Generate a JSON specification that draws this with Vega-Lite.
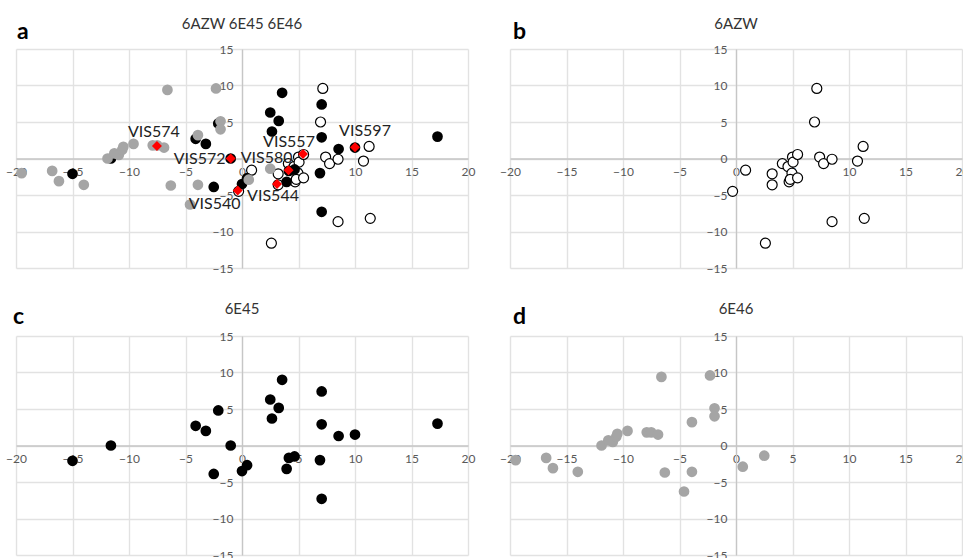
{
  "$schema": "https://vega.github.io/schema/vega-lite/v6.json",
  "background": "white",
  "padding": {"top": 16, "left": 5, "right": 5, "bottom": 5},
  "config": {
    "font": "Lato",
    "view": {"stroke": null},
    "axis": {"gridColor": "#e2e2e2", "gridWidth": 1.4, "domainColor": "#c6c6c6", "domainWidth": 1.3, "ticks": false, "labelFontSize": 12, "labelColor": "#595959", "labelFlush": false, "labelOverlap": false, "labelBound": false},
    "axisX": {"labelPadding": 8},
    "axisY": {"labelPadding": 9},
    "title": {"fontSize": 15, "fontWeight": "normal", "color": "#333333", "anchor": "middle", "offset": -10.5}
  },
  "datasets": {
    "pts": [
      {"set": "6AZW", "x": -0.3, "y": -4.5}, {"set": "6AZW", "x": 0.85, "y": -1.6}, {"set": "6AZW", "x": 3.2, "y": -2.1}, {"set": "6AZW", "x": 3.2, "y": -3.6},
      {"set": "6AZW", "x": 2.6, "y": -11.6}, {"set": "6AZW", "x": 4.1, "y": -0.7}, {"set": "6AZW", "x": 4.6, "y": -1.1}, {"set": "6AZW", "x": 5.0, "y": 0.2},
      {"set": "6AZW", "x": 5.05, "y": -0.5}, {"set": "6AZW", "x": 5.45, "y": 0.55}, {"set": "6AZW", "x": 4.95, "y": -2.0}, {"set": "6AZW", "x": 4.7, "y": -3.2},
      {"set": "6AZW", "x": 4.8, "y": -2.85}, {"set": "6AZW", "x": 5.45, "y": -2.65}, {"set": "6AZW", "x": 7.15, "y": 9.6}, {"set": "6AZW", "x": 6.95, "y": 5.0},
      {"set": "6AZW", "x": 7.4, "y": 0.2}, {"set": "6AZW", "x": 7.75, "y": -0.7}, {"set": "6AZW", "x": 8.5, "y": -0.1}, {"set": "6AZW", "x": 8.5, "y": -8.65},
      {"set": "6AZW", "x": 10.75, "y": -0.35}, {"set": "6AZW", "x": 11.25, "y": 1.65}, {"set": "6AZW", "x": 11.35, "y": -8.2},
      {"set": "6E45", "x": -15.0, "y": -2.1}, {"set": "6E45", "x": -11.6, "y": 0.0}, {"set": "6E45", "x": -4.1, "y": 2.7}, {"set": "6E45", "x": -3.2, "y": 2.0},
      {"set": "6E45", "x": -2.1, "y": 4.8}, {"set": "6E45", "x": -1.0, "y": 0.0}, {"set": "6E45", "x": -2.5, "y": -3.9}, {"set": "6E45", "x": 0.0, "y": -3.5},
      {"set": "6E45", "x": 0.45, "y": -2.7}, {"set": "6E45", "x": 2.5, "y": 6.3}, {"set": "6E45", "x": 3.55, "y": 9.0}, {"set": "6E45", "x": 3.25, "y": 5.15},
      {"set": "6E45", "x": 2.65, "y": 3.7}, {"set": "6E45", "x": 4.15, "y": -1.7}, {"set": "6E45", "x": 4.65, "y": -1.5}, {"set": "6E45", "x": 3.95, "y": -3.2},
      {"set": "6E45", "x": 6.9, "y": -2.0}, {"set": "6E45", "x": 7.05, "y": 2.9}, {"set": "6E45", "x": 7.05, "y": 7.4}, {"set": "6E45", "x": 7.05, "y": -7.3},
      {"set": "6E45", "x": 8.55, "y": 1.3}, {"set": "6E45", "x": 10.0, "y": 1.5}, {"set": "6E45", "x": 17.3, "y": 3.0},
      {"set": "6E46", "x": -19.5, "y": -2.0}, {"set": "6E46", "x": -16.8, "y": -1.7}, {"set": "6E46", "x": -16.2, "y": -3.1}, {"set": "6E46", "x": -14.0, "y": -3.6},
      {"set": "6E46", "x": -11.9, "y": 0.0}, {"set": "6E46", "x": -11.3, "y": 0.7}, {"set": "6E46", "x": -10.9, "y": 0.5}, {"set": "6E46", "x": -10.6, "y": 1.2},
      {"set": "6E46", "x": -10.5, "y": 1.6}, {"set": "6E46", "x": -9.6, "y": 2.0}, {"set": "6E46", "x": -7.9, "y": 1.8}, {"set": "6E46", "x": -7.5, "y": 1.8},
      {"set": "6E46", "x": -6.9, "y": 1.5}, {"set": "6E46", "x": -6.6, "y": 9.4}, {"set": "6E46", "x": -2.3, "y": 9.6}, {"set": "6E46", "x": -1.9, "y": 5.1},
      {"set": "6E46", "x": -1.9, "y": 4.0}, {"set": "6E46", "x": -3.9, "y": 3.2}, {"set": "6E46", "x": -6.3, "y": -3.7}, {"set": "6E46", "x": -3.9, "y": -3.6},
      {"set": "6E46", "x": -4.6, "y": -6.3}, {"set": "6E46", "x": 0.6, "y": -2.9}, {"set": "6E46", "x": 2.5, "y": -1.4}
    ],
    "vis": [
      {"label": "VIS574", "x": -7.53, "y": 1.7},
      {"label": "VIS572", "x": -1.0, "y": 0.0},
      {"label": "VIS580", "x": 4.12, "y": -1.6},
      {"label": "VIS557", "x": 5.4, "y": 0.6},
      {"label": "VIS597", "x": 10.0, "y": 1.55},
      {"label": "VIS540", "x": -0.38, "y": -4.4},
      {"label": "VIS544", "x": 3.1, "y": -3.5}
    ]
  },
  "spacing": 27,
  "vconcat": [
    {
      "spacing": 24,
      "hconcat": [
        {
          "width": 452, "height": 219,
          "title": "6AZW 6E45 6E46",
          "layer": [
            {"data": {"name": "pts"}, "transform": [{"filter": "datum.set === '6AZW'"}], "mark": {"type": "circle", "size": 100, "fill": "white", "stroke": "black", "strokeWidth": 1.2, "opacity": 1},
             "encoding": {
               "x": {"field": "x", "type": "quantitative", "title": null, "scale": {"domain": [-20, 20], "nice": false}, "axis": {"orient": "top", "grid": true, "labels": false, "domain": false, "ticks": false, "values": [-20, -15, -10, -5, 0, 5, 10, 15, 20]}},
               "y": {"field": "y", "type": "quantitative", "title": null, "scale": {"domain": [-15, 15], "nice": false}, "axis": {"orient": "right", "grid": true, "labels": false, "domain": false, "ticks": false, "values": [-15, -10, -5, 0, 5, 10, 15]}}}},
            {"data": {"name": "pts"}, "transform": [{"filter": "datum.set === '6E45'"}], "mark": {"type": "circle", "size": 115, "color": "black", "opacity": 1},
             "encoding": {"x": {"field": "x", "type": "quantitative", "axis": null}, "y": {"field": "y", "type": "quantitative", "axis": null}}},
            {"data": {"name": "pts"}, "transform": [{"filter": "datum.set === '6E46'"}], "mark": {"type": "circle", "size": 115, "color": "#a5a5a5", "opacity": 1},
             "encoding": {"x": {"field": "x", "type": "quantitative", "axis": null}, "y": {"field": "y", "type": "quantitative", "axis": null}}},
            {"data": {"name": "vis"}, "mark": {"type": "point", "shape": "diamond", "size": 100, "filled": true, "color": "#ff0000", "opacity": 1},
             "encoding": {"x": {"field": "x", "type": "quantitative", "axis": null}, "y": {"field": "y", "type": "quantitative", "axis": null}}},
            {"data": {"name": "vis"}, "transform": [{"filter": "datum.label === 'VIS574'"}], "mark": {"type": "text", "fontSize": 16, "color": "#222222", "align": "center", "baseline": "middle", "dx": -3, "dy": -14},
             "encoding": {"x": {"field": "x", "type": "quantitative", "axis": null}, "y": {"field": "y", "type": "quantitative", "axis": null}, "text": {"field": "label"}}},
            {"data": {"name": "vis"}, "transform": [{"filter": "datum.label === 'VIS572'"}], "mark": {"type": "text", "fontSize": 16, "color": "#222222", "align": "center", "baseline": "middle", "dx": -31, "dy": 0},
             "encoding": {"x": {"field": "x", "type": "quantitative", "axis": null}, "y": {"field": "y", "type": "quantitative", "axis": null}, "text": {"field": "label"}}},
            {"data": {"name": "vis"}, "transform": [{"filter": "datum.label === 'VIS580'"}], "mark": {"type": "text", "fontSize": 16, "color": "#222222", "align": "center", "baseline": "middle", "dx": -22, "dy": -12},
             "encoding": {"x": {"field": "x", "type": "quantitative", "axis": null}, "y": {"field": "y", "type": "quantitative", "axis": null}, "text": {"field": "label"}}},
            {"data": {"name": "vis"}, "transform": [{"filter": "datum.label === 'VIS557'"}], "mark": {"type": "text", "fontSize": 16, "color": "#222222", "align": "center", "baseline": "middle", "dx": -14, "dy": -12},
             "encoding": {"x": {"field": "x", "type": "quantitative", "axis": null}, "y": {"field": "y", "type": "quantitative", "axis": null}, "text": {"field": "label"}}},
            {"data": {"name": "vis"}, "transform": [{"filter": "datum.label === 'VIS597'"}], "mark": {"type": "text", "fontSize": 16, "color": "#222222", "align": "center", "baseline": "middle", "dx": 10, "dy": -16},
             "encoding": {"x": {"field": "x", "type": "quantitative", "axis": null}, "y": {"field": "y", "type": "quantitative", "axis": null}, "text": {"field": "label"}}},
            {"data": {"name": "vis"}, "transform": [{"filter": "datum.label === 'VIS540'"}], "mark": {"type": "text", "fontSize": 16, "color": "#222222", "align": "center", "baseline": "middle", "dx": -23, "dy": 13},
             "encoding": {"x": {"field": "x", "type": "quantitative", "axis": null}, "y": {"field": "y", "type": "quantitative", "axis": null}, "text": {"field": "label"}}},
            {"data": {"name": "vis"}, "transform": [{"filter": "datum.label === 'VIS544'"}], "mark": {"type": "text", "fontSize": 16, "color": "#222222", "align": "center", "baseline": "middle", "dx": -4, "dy": 12},
             "encoding": {"x": {"field": "x", "type": "quantitative", "axis": null}, "y": {"field": "y", "type": "quantitative", "axis": null}, "text": {"field": "label"}}},
            {"data": {"values": [{"t": "a"}]}, "mark": {"type": "text", "align": "left", "baseline": "alphabetic", "dx": 1, "dy": -10, "fontSize": 23, "fontWeight": "bold", "color": "black"},
             "encoding": {
               "x": {"datum": -20, "type": "quantitative", "axis": {"orient": "bottom", "grid": false, "title": null, "offset": -109.5, "values": [-20, -15, -10, -5, 0, 5, 10, 15, 20]}},
               "y": {"datum": 15, "type": "quantitative", "axis": {"orient": "left", "grid": false, "title": null, "offset": -226, "values": [-15, -10, -5, 0, 5, 10, 15]}},
               "text": {"field": "t"}}}
          ]
        },
        {
          "width": 452, "height": 219,
          "title": "6AZW",
          "layer": [
            {"data": {"name": "pts"}, "transform": [{"filter": "datum.set === '6AZW'"}], "mark": {"type": "circle", "size": 100, "fill": "white", "stroke": "black", "strokeWidth": 1.2, "opacity": 1},
             "encoding": {
               "x": {"field": "x", "type": "quantitative", "title": null, "scale": {"domain": [-20, 20], "nice": false}, "axis": {"orient": "top", "grid": true, "labels": false, "domain": false, "ticks": false, "values": [-20, -15, -10, -5, 0, 5, 10, 15, 20]}},
               "y": {"field": "y", "type": "quantitative", "title": null, "scale": {"domain": [-15, 15], "nice": false}, "axis": {"orient": "right", "grid": true, "labels": false, "domain": false, "ticks": false, "values": [-15, -10, -5, 0, 5, 10, 15]}}}},
            {"data": {"values": [{"t": "b"}]}, "mark": {"type": "text", "align": "left", "baseline": "alphabetic", "dx": 3, "dy": -10, "fontSize": 23, "fontWeight": "bold", "color": "black"},
             "encoding": {
               "x": {"datum": -20, "type": "quantitative", "axis": {"orient": "bottom", "grid": false, "title": null, "offset": -109.5, "values": [-20, -15, -10, -5, 0, 5, 10, 15, 20]}},
               "y": {"datum": 15, "type": "quantitative", "axis": {"orient": "left", "grid": false, "title": null, "offset": -226, "values": [-15, -10, -5, 0, 5, 10, 15]}},
               "text": {"field": "t"}}}
          ]
        }
      ]
    },
    {
      "spacing": 24,
      "hconcat": [
        {
          "width": 452, "height": 219,
          "title": "6E45",
          "layer": [
            {"data": {"name": "pts"}, "transform": [{"filter": "datum.set === '6E45'"}], "mark": {"type": "circle", "size": 115, "color": "black", "opacity": 1},
             "encoding": {
               "x": {"field": "x", "type": "quantitative", "title": null, "scale": {"domain": [-20, 20], "nice": false}, "axis": {"orient": "top", "grid": true, "labels": false, "domain": false, "ticks": false, "values": [-20, -15, -10, -5, 0, 5, 10, 15, 20]}},
               "y": {"field": "y", "type": "quantitative", "title": null, "scale": {"domain": [-15, 15], "nice": false}, "axis": {"orient": "right", "grid": true, "labels": false, "domain": false, "ticks": false, "values": [-15, -10, -5, 0, 5, 10, 15]}}}},
            {"data": {"values": [{"t": "c"}]}, "mark": {"type": "text", "align": "left", "baseline": "alphabetic", "dx": -3, "dy": -12, "fontSize": 23, "fontWeight": "bold", "color": "black"},
             "encoding": {
               "x": {"datum": -20, "type": "quantitative", "axis": {"orient": "bottom", "grid": false, "title": null, "offset": -109.5, "values": [-20, -15, -10, -5, 0, 5, 10, 15, 20]}},
               "y": {"datum": 15, "type": "quantitative", "axis": {"orient": "left", "grid": false, "title": null, "offset": -226, "values": [-15, -10, -5, 0, 5, 10, 15]}},
               "text": {"field": "t"}}}
          ]
        },
        {
          "width": 452, "height": 219,
          "title": "6E46",
          "layer": [
            {"data": {"name": "pts"}, "transform": [{"filter": "datum.set === '6E46'"}], "mark": {"type": "circle", "size": 115, "color": "#a5a5a5", "opacity": 1},
             "encoding": {
               "x": {"field": "x", "type": "quantitative", "title": null, "scale": {"domain": [-20, 20], "nice": false}, "axis": {"orient": "top", "grid": true, "labels": false, "domain": false, "ticks": false, "values": [-20, -15, -10, -5, 0, 5, 10, 15, 20]}},
               "y": {"field": "y", "type": "quantitative", "title": null, "scale": {"domain": [-15, 15], "nice": false}, "axis": {"orient": "right", "grid": true, "labels": false, "domain": false, "ticks": false, "values": [-15, -10, -5, 0, 5, 10, 15]}}}},
            {"data": {"values": [{"t": "d"}]}, "mark": {"type": "text", "align": "left", "baseline": "alphabetic", "dx": 3, "dy": -12, "fontSize": 23, "fontWeight": "bold", "color": "black"},
             "encoding": {
               "x": {"datum": -20, "type": "quantitative", "axis": {"orient": "bottom", "grid": false, "title": null, "offset": -109.5, "values": [-20, -15, -10, -5, 0, 5, 10, 15, 20]}},
               "y": {"datum": 15, "type": "quantitative", "axis": {"orient": "left", "grid": false, "title": null, "offset": -226, "values": [-15, -10, -5, 0, 5, 10, 15]}},
               "text": {"field": "t"}}}
          ]
        }
      ]
    }
  ]
}
